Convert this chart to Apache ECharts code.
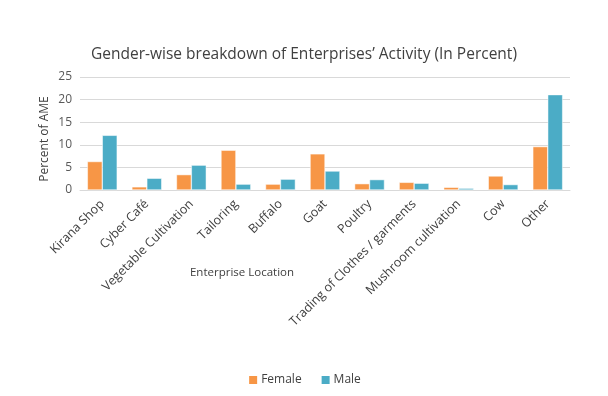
<!DOCTYPE html>
<html>
<head>
<meta charset="utf-8">
<script src="https://cdn.jsdelivr.net/npm/echarts@6/dist/echarts.min.js"></script>
<style>
html,body{margin:0;padding:0;background:#fff;}
#chart{width:608px;height:396px;}
</style>
</head>
<body>
<div id="chart"></div>
<script>
// categories and values
var categories = ['Kirana Shop','Cyber Café','Vegetable Cultivation','Tailoring','Buffalo','Goat','Poultry','Trading of Clothes / garments','Mushroom cultivation','Cow','Other'];
var female = [6.3, 0.7, 3.4, 8.8, 1.3, 8.0, 1.4, 1.7, 0.6, 3.1, 9.6];
var male = [12.1, 2.6, 5.5, 1.3, 2.4, 4.2, 2.3, 1.5, 0.4, 1.2, 21.1];
var yTicks = [0, 5, 10, 15, 20, 25];

var font = '"Open Sans", sans-serif';
var chart = echarts.init(document.getElementById('chart'));
var option = {
	backgroundColor: '#fff',
	animation: false,
	title: {
		text: 'Gender-wise breakdown of Enterprises\u2019 Activity (In Percent)',
		left: 'center',
		top: 42,
		textStyle: {color: '#404040', fontSize: 15.5, fontWeight: 'normal', fontFamily: font}
	},
	legend: {
		data: ['Female', 'Male'],
		left: 'center',
		top: 369,
		itemWidth: 10,
		itemHeight: 10,
		itemGap: 18,
		icon: 'rect',
		textStyle: {color: '#404040', fontSize: 12, fontFamily: font, padding: [0, 0, 0, -2]}
	},
	grid: {left: 80, right: 38, top: 77, bottom: 206},
	xAxis: {
		type: 'category',
		data: categories,
		axisLine: {lineStyle: {color: '#d9d9d9'}},
		axisTick: {show: false},
		axisLabel: {rotate: 45, interval: 0, color: '#404040', fontSize: 12.5, fontFamily: font, margin: 12}
	},
	yAxis: {
		type: 'value',
		min: yTicks[0],
		max: yTicks[yTicks.length - 1],
		interval: 5,
		axisLine: {show: false},
		axisTick: {show: false},
		splitLine: {lineStyle: {color: '#d9d9d9'}},
		axisLabel: {color: '#595959', fontSize: 12, fontFamily: font, margin: 8}
	},
	graphic: [
		{
			type: 'text',
			x: 242, y: 273,
			style: {text: 'Enterprise Location', fill: '#404040', font: '11.5px ' + font, textAlign: 'center', textVerticalAlign: 'middle'}
		},
		{
			type: 'text',
			x: 45, y: 139,
			rotation: Math.PI / 2,
			style: {text: 'Percent of AME', fill: '#404040', font: '12px ' + font, textAlign: 'center', textVerticalAlign: 'middle'}
		}
	],
	series: [
		{
			name: 'Female',
			type: 'bar',
			data: female,
			barGap: '0%',
			barCategoryGap: '33%',
			itemStyle: {color: '#F79646', borderColor: '#fff', borderWidth: 0.5}
		},
		{
			name: 'Male',
			type: 'bar',
			data: male,
			itemStyle: {color: '#4BACC6', borderColor: '#fff', borderWidth: 0.5}
		}
	]
};
chart.setOption(option);
</script>
</body>
</html>
